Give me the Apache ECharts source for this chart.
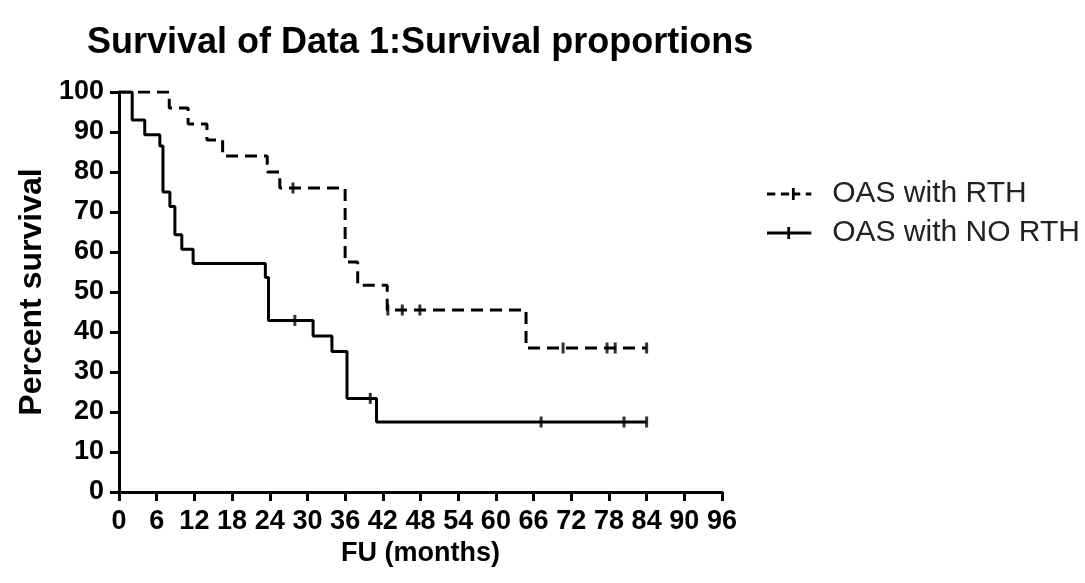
<!DOCTYPE html>
<html>
<head>
<meta charset="utf-8">
<script src="https://cdn.jsdelivr.net/npm/echarts@6/dist/echarts.min.js"></script>
<style>
  html, body { margin: 0; padding: 0; background: #fff; }
  #chart { width: 1085px; height: 583px; }
</style>
</head>
<body>
<div id="chart"></div>
<script>
// Kaplan-Meier curves (months, percent)
var rthTimes = [0, 8, 11, 14, 16.5, 23.6, 25.6, 36, 38, 42.7, 64.8, 84];
var rthSurv = [100, 96, 92, 88, 84, 80, 76, 57.5, 51.7, 45.5, 36, 36];
var rthCensorT = [27.7, 42.8, 45.1, 47.9, 70.7, 77.7, 79, 84];
var rthCensorS = [76, 45.5, 45.5, 45.5, 36, 36, 36, 36];

var noTimes = [0, 2.1, 4.1, 6.5, 7, 8.1, 8.9, 10, 11.8, 23.3, 23.8, 30.9, 33.9, 36.3, 41, 84];
var noSurv = [100, 93, 89.3, 86.5, 75, 71.4, 64.3, 60.7, 57.1, 53.6, 42.9, 39, 35.1, 23.4, 17.5, 17.5];
var noCensorT = [28, 40, 67.2, 80.4, 84];
var noCensorS = [42.9, 23.4, 17.5, 17.5, 17.5];

var xTicks = [0, 6, 12, 18, 24, 30, 36, 42, 48, 54, 60, 66, 72, 78, 84, 90, 96];
var seriesNames = ['OAS with RTH', 'OAS with NO RTH'];

function pairs(xs, ys) {
    return xs.map(function (x, i) { return [x, ys[i]]; });
}

var font = 'Arial, "Liberation Sans", sans-serif';

var option = {
    animation: false,
    title: {
        text: 'Survival of Data 1:Survival proportions',
        left: 82,
        top: 20,
        textStyle: { fontSize: 36, fontWeight: 'bold', color: '#000', fontFamily: font }
    },
    legend: {
        orient: 'vertical',
        left: 762,
        top: 174,
        itemWidth: 48,
        itemHeight: 12,
        itemGap: 9,
        data: [
            { name: seriesNames[0], icon: 'path://M0,5h9v3h-9z M15,5h9v3h-9z M27,0h3v13h-3z M30,5h6v3h-6z M42,5h6v3h-6z' },
            { name: seriesNames[1], icon: 'path://M0,5h48v3h-48z M22,0h3v13h-3z' }
        ],
        textStyle: { fontSize: 30, color: '#222', fontFamily: font, padding: [0, 0, 0, 14] }
    },
    grid: { left: 119, right: 363, top: 92, bottom: 91 },
    xAxis: {
        type: 'value',
        min: 0,
        max: 96,
        interval: 6,
        name: 'FU (months)',
        nameLocation: 'middle',
        nameGap: 44,
        nameTextStyle: { fontSize: 27, fontWeight: 'bold', color: '#000', fontFamily: font },
        axisLine: { lineStyle: { color: '#000', width: 3 } },
        axisTick: { length: 9, lineStyle: { color: '#000', width: 3 } },
        axisLabel: {
            color: '#000', fontSize: 27, fontWeight: 'bold', fontFamily: font, margin: 16,
            formatter: function (v) { return xTicks.indexOf(v) >= 0 ? String(v) : ''; }
        },
        splitLine: { show: false }
    },
    yAxis: {
        type: 'value',
        min: 0,
        max: 100,
        interval: 10,
        name: 'Percent survival',
        nameLocation: 'middle',
        nameGap: 68,
        nameTextStyle: { fontSize: 32, fontWeight: 'bold', color: '#000', fontFamily: font },
        axisLine: { show: true, lineStyle: { color: '#000', width: 3 } },
        axisTick: { show: true, length: 9, lineStyle: { color: '#000', width: 3 } },
        axisLabel: { color: '#000', fontSize: 27, fontWeight: 'bold', fontFamily: font, margin: 15 },
        splitLine: { show: false }
    },
    series: [
        {
            name: seriesNames[0],
            type: 'line',
            step: 'end',
            symbol: 'none',
            data: pairs(rthTimes, rthSurv),
            lineStyle: { color: '#000', width: 3, type: [12, 7] },
            itemStyle: { color: '#000' },
            z: 3
        },
        {
            name: seriesNames[1],
            type: 'line',
            step: 'end',
            symbol: 'none',
            data: pairs(noTimes, noSurv),
            lineStyle: { color: '#000', width: 3 },
            itemStyle: { color: '#000' },
            z: 3
        },
        {
            name: 'rth censored',
            type: 'scatter',
            symbol: 'rect',
            symbolSize: [3, 11],
            data: pairs(rthCensorT, rthCensorS),
            itemStyle: { color: '#000' },
            z: 4
        },
        {
            name: 'no censored',
            type: 'scatter',
            symbol: 'rect',
            symbolSize: [3, 11],
            data: pairs(noCensorT, noCensorS),
            itemStyle: { color: '#000' },
            z: 4
        }
    ]
};

var myChart = echarts.init(document.getElementById('chart'));
myChart.setOption(option);
</script>
</body>
</html>
